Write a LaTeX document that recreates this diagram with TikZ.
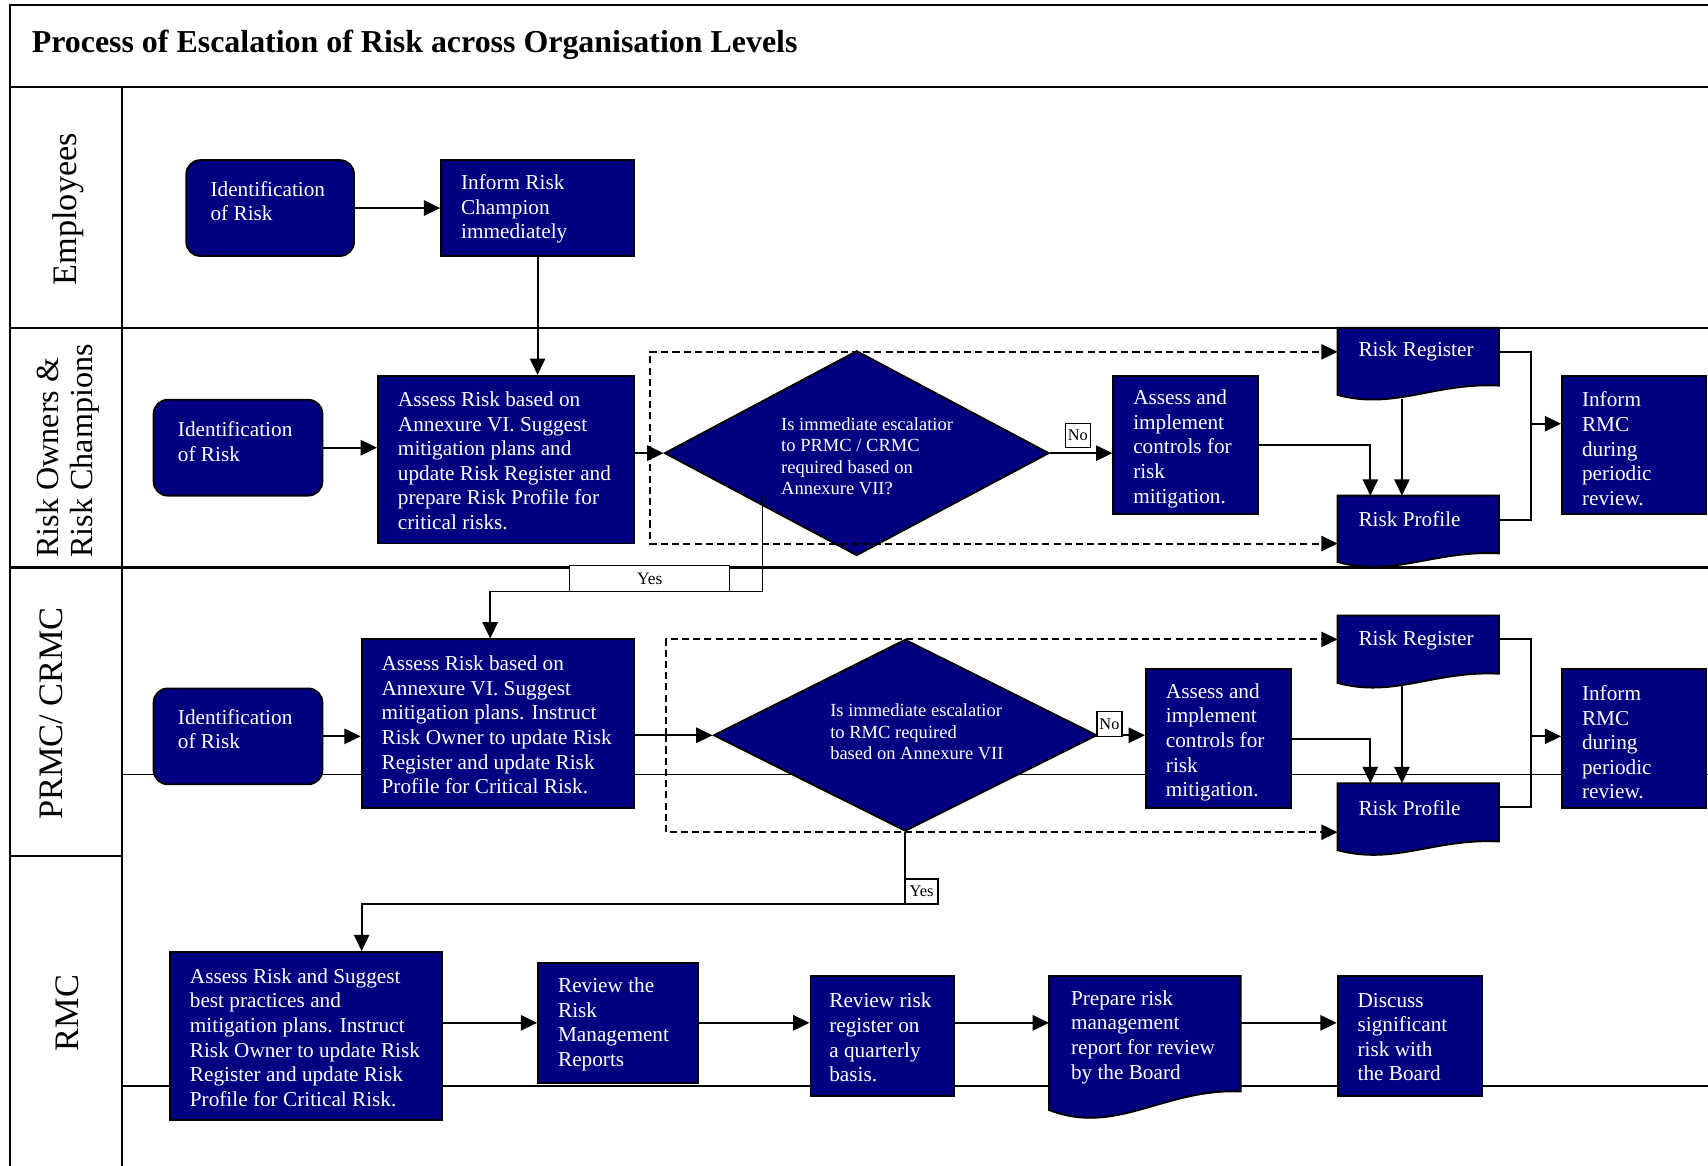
\documentclass[tikz,border=0pt]{standalone}
\usepackage{fontspec}
\setmainfont{Liberation Serif}
\usetikzlibrary{arrows.meta,shapes.geometric,calc}
\definecolor{navy}{RGB}{0,0,128}
\newcommand\mydoc[7]{%
  \filldraw[draw=black, line width=1.7pt, fill=navy] (#2,#3) -- ({#2+#4},#3) -- ({#2+#4},{#3+#6})
    .. controls ({#2+0.6*#4},{#3+#6-3}) and ({#2+0.35*#4},{#3+#5+#7}) .. (#2,{#3+#5}) -- cycle;
  \node[draw=none, inner sep=0pt, minimum width=#4pt, minimum height=#5pt, anchor=north west] (#1) at (#2,#3) {};
}
\tikzset{
  box/.style 2 args={draw=black, line width=1.7pt, fill=navy, inner sep=0pt, minimum width=#1pt, minimum height=#2pt},
  rbox/.style 2 args={box={#1}{#2}, rounded corners=13pt},
  dia/.style 2 args={diamond, draw=black, line width=1.7pt, fill=navy, inner sep=0pt, minimum width=#1pt, minimum height=#2pt},
  txt/.style={text=white, align=left, inner sep=0pt, anchor=west, font=\fontsize{19.5}{22.6}\selectfont},
  dtxt/.style={text=white, align=left, inner sep=0pt, anchor=west, font=\fontsize{17}{19.7}\selectfont},
  lbl/.style={draw=black, line width=1.2pt, fill=white, inner sep=0pt, font=\fontsize{16}{17}\selectfont},
  ln/.style={line width=1.8pt},
  arr/.style={line width=1.8pt, -{Triangle[length=15pt,width=14pt]}},
  dsh/.style={arr, dash pattern=on 6.5pt off 3.8pt},
  frame/.style={line width=1.9pt},
  lane/.style={rotate=90, align=left, inner sep=0pt, font=\fontsize{31.5}{33}\selectfont},
}
\begin{document}
\begin{tikzpicture}[x=1pt,y=-1pt]
\useasboundingbox (0,0) rectangle (1568,1070);
% frame and lanes
\draw[frame] (9,1070) -- (9,5) -- (1568,5);
\draw[frame] (9,80) -- (1568,80);
\draw[frame] (112,80) -- (112,1070);
\draw[frame] (9,301) -- (1568,301);
\draw[frame] (9,521) -- (1568,521);
\draw[frame] (9,786) -- (112,786);
\draw[ln] (112,711) -- (1568,711);
\draw[ln] (112,997) -- (1568,997);

\node[anchor=base west, inner sep=0pt, font=\bfseries\fontsize{29.3}{34}\selectfont] (title) at (29,48) {Process of Escalation of Risk across Organisation Levels};
\node[lane] (l1) at (62.5,192) {Employees};
\node[lane, font=\fontsize{29.5}{31}\selectfont] (l2) at (62.5,414) {Risk Owners \&\\Risk Champions};
\node[lane] (l3) at (47.5,655) {PRMC/ CRMC};
\node[lane] (l4) at (62,930) {RMC};

% Employees lane
\node[rbox={154}{88}] (id0) at (248,191) {};
\node[txt] (id0t) at ($(id0.west)+(23,-6.5)$) {Identification\\of Risk};
\node[box={177}{88}] (inf0) at (493.5,191) {};
\node[txt] (inf0t) at ($(inf0.west)+(19,1)$) {Inform Risk\\Champion\\immediately};

% Risk owners lane
\node[rbox={155}{88}] (id1) at (218.5,411) {};
\node[txt] (id1t) at ($(id1.west)+(23,-5.5)$) {Identification\\of Risk};
\node[box={235}{154}] (ra1) at (464.5,422) {};
\node[txt] (ra1t) at ($(ra1.west)+(19,1)$) {Assess Risk based on\\Annexure VI. Suggest\\mitigation plans and\\update Risk Register and\\prepare Risk Profile for\\critical risks.};
\node[dia={353}{188}] (d1) at (786.5,416) {};
\node[box={133}{127}] (ai1) at (1088.5,408.5) {};
\node[txt] (ai1t) at ($(ai1.west)+(19,3.5)$) {Assess and\\implement\\controls for\\risk\\mitigation.};
\mydoc{rr1}{1228}{301}{148}{61.6}{53}{14}
\node[txt] (rr1t) at (1247,323) {Risk Register};
\mydoc{rp1}{1228}{455}{148}{61}{53}{14}
\node[txt] (rp1t) at (1247,477) {Risk Profile};
\node[box={132}{127}] (ir1) at (1500,408.5) {};
\node[txt] (ir1t) at ($(ir1.west)+(19,3.5)$) {Inform\\RMC\\during\\periodic\\review.};

% PRMC lane
\node[rbox={155}{88}] (id2) at (218.5,676) {};
\node[txt] (id2t) at ($(id2.west)+(23,-6.5)$) {Identification\\of Risk};
\node[box={250}{155}] (ra2) at (457,664.5) {};
\node[txt] (ra2t) at ($(ra2.west)+(19,1)$) {Assess Risk based on\\Annexure VI. Suggest\\mitigation plans. Instruct\\Risk Owner to update Risk\\Register and update Risk\\Profile for Critical Risk.};
\node[dia={352}{176}] (d2) at (831,675) {};
\node[box={133}{128}] (ai2) at (1118.5,678) {};
\node[txt] (ai2t) at ($(ai2.west)+(19,3.5)$) {Assess and\\implement\\controls for\\risk\\mitigation.};
\mydoc{rr2}{1228}{565}{148}{62}{53.5}{14}
\node[txt] (rr2t) at (1247,588) {Risk Register};
\mydoc{rp2}{1228}{719}{148}{61.5}{53.5}{14}
\node[txt] (rp2t) at (1247,742) {Risk Profile};
\node[box={132}{128}] (ir2) at (1500,678) {};
\node[txt] (ir2t) at ($(ir2.west)+(19,3.5)$) {Inform\\RMC\\during\\periodic\\review.};

% RMC lane
\node[box={250}{154}] (ra3) at (281,951) {};
\node[txt] (ra3t) at ($(ra3.west)+(19,1.5)$) {Assess Risk and Suggest\\best practices and\\mitigation plans. Instruct\\Risk Owner to update Risk\\Register and update Risk\\Profile for Critical Risk.};
\node[box={147}{110}] (rv1) at (567.5,939) {};
\node[txt] (rv1t) at ($(rv1.west)+(19,1.5)$) {Review the\\Risk\\Management\\Reports};
\node[box={132}{110}] (rv2) at (810,951) {};
\node[txt] (rv2t) at ($(rv2.west)+(18,1.5)$) {Review risk\\register on\\a quarterly\\basis.};
\mydoc{pr}{963}{896}{176}{123}{106}{24}
\node[txt] (prt) at (983,952) {Prepare risk\\management\\report for review\\by the Board};
\node[box={133}{110}] (ds) at (1294.5,951) {};
\node[txt] (dst) at ($(ds.west)+(19,1)$) {Discuss\\significant\\risk with\\the Board};

% connectors lane 1
\draw[arr] (id0.east) -- (inf0.west);
\draw[arr] (inf0.south) -- (inf0.south |- ra1.north);

% connectors lane 2
\draw[arr] (id1.east) -- (id1.east -| ra1.west);
\draw[arr] (ra1.east |- d1.west) -- (d1.west);
\coordinate (dl1) at (597,416);
\draw[dsh] (dl1) |- ($(rr1.north west)+(0,22)$);
\draw[dsh] (dl1) |- ($(rp1.north west)+(0,44)$);
\draw[arr] (d1.east) -- (d1.east -| ai1.west);
\draw[arr] (ai1.east) -| ($(rp1.north west)+(30,0)$);
\draw[arr] ($(rr1.north west)+(59,65)$) -- ($(rp1.north west)+(59,0)$);
\draw[ln] ($(rr1.north east)+(0,22)$) -| ($(rp1.north east)+(29,22)$) -- ($(rp1.north east)+(0,22)$);
\coordinate (br1) at (1405,389);
\draw[arr] (br1) -- (br1 -| ir1.west);
\node[dtxt] (d1t) at (717,419) {Is immediate escalatior\\to PRMC / CRMC\\required based on\\Annexure VII?};
\node[lbl, minimum width=23pt, minimum height=22pt, font=\fontsize{15}{17}\selectfont] (no1) at (989.5,400) {No};

% yes 1
\coordinate (d1y) at (700,455);
\coordinate (y1c) at (700,543);
\draw[arr] (d1y) -- (y1c) -| ($(ra2.north)+(-7,0)$);
\node[lbl, minimum width=147pt, minimum height=24pt] (yes1) at (596.5,531) {Yes};

% connectors lane 3
\draw[arr] (id2.east) -- (id2.east -| ra2.west);
\draw[arr] (ra2.east |- d2.west) -- (d2.west);
\coordinate (dl2) at (611,675);
\draw[dsh] (dl2) |- ($(rr2.north west)+(0,22)$);
\draw[dsh] (dl2) |- ($(rp2.north west)+(0,45)$);
\draw[arr] (d2.east) -- (d2.east -| ai2.west);
\draw[arr] (ai2.east) -| ($(rp2.north west)+(30,0)$);
\draw[arr] ($(rr2.north west)+(59,65)$) -- ($(rp2.north west)+(59,0)$);
\draw[ln] ($(rr2.north east)+(0,22)$) -| ($(rp2.north east)+(29,22)$) -- ($(rp2.north east)+(0,22)$);
\coordinate (br2) at (1405,676);
\draw[arr] (br2) -- (br2 -| ir2.west);
\node[dtxt] (d2t) at (762,672) {Is immediate escalatior\\to RMC required\\based on Annexure VII};
\node[lbl, minimum width=23pt, minimum height=23pt, font=\fontsize{15}{17}\selectfont] (no2) at (1018.5,664.5) {No};

% yes 2
\coordinate (y2c) at (831,830);
\draw[arr] (d2.south) -- (y2c) -| ($(ra3.north)+(51,0)$);
\node[lbl, minimum width=30pt, minimum height=23pt, font=\fontsize{15}{17}\selectfont] (yes2) at (846,818.5) {Yes};

% connectors lane 4
\draw[arr] (ra3.east |- rv1.west) -- (rv1.west);
\draw[arr] (rv1.east) -- (rv1.east -| rv2.west);
\draw[arr] (rv1.east -| rv2.east) -- (rv1.east -| pr.west);
\draw[arr] (rv1.east -| pr.east) -- (rv1.east -| ds.west);
\end{tikzpicture}
\end{document}
